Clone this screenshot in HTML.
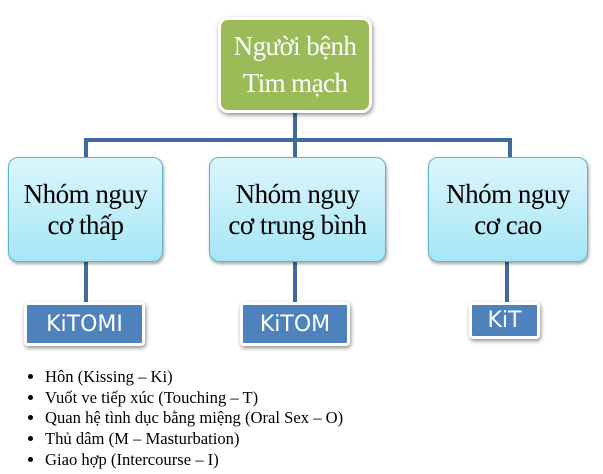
<!DOCTYPE html>
<html><head><meta charset="utf-8"><style>
body{margin:0;width:603px;height:474px;background:#fff;position:relative;overflow:hidden;font-family:"Liberation Serif",serif}
.b{position:absolute;box-sizing:border-box;display:flex;align-items:center;justify-content:center;text-align:center}
.root{left:218px;top:17px;width:154px;height:96px;background:#9bbb59;border:3px solid #fff;border-radius:10px;box-shadow:1px 2px 4px rgba(0,0,0,.45);color:#fff;font-size:27px;line-height:37px;letter-spacing:-0.6px}
.ch{top:157px;height:105px;border-radius:10px;border:1px solid #5fb3c8;background:linear-gradient(#dcf6fd,#a6e6f6);box-shadow:1px 2px 3px rgba(0,0,0,.35);color:#000;font-size:27px;line-height:31px;letter-spacing:-0.5px}
.k{background:#4f81bd;border:3px solid #fff;border-radius:4px;box-shadow:1px 2px 4px rgba(0,0,0,.45);color:#fff;font-family:"DejaVu Sans","Liberation Sans",sans-serif;font-size:22px}
.l{position:absolute;background:#3f6a9b}
ul{position:absolute;left:8px;top:367px;margin:0;padding-left:37px;font-size:16.6px;line-height:20.7px;color:#000}
</style></head><body>
<div class="l" style="left:293px;top:113px;width:4px;height:45px"></div>
<div class="l" style="left:84px;top:138px;width:428px;height:4px"></div>
<div class="l" style="left:84px;top:138px;width:4px;height:20px"></div>
<div class="l" style="left:508px;top:138px;width:4px;height:20px"></div>
<div class="l" style="left:84px;top:262px;width:4px;height:43px"></div>
<div class="l" style="left:293px;top:262px;width:4px;height:43px"></div>
<div class="l" style="left:505px;top:262px;width:4px;height:43px"></div>
<div class="b root">Người bệnh<br>Tim mạch</div>
<div class="b ch" style="left:8px;width:155px">Nhóm nguy<br>cơ thấp</div>
<div class="b ch" style="left:209px;width:177px">Nhóm nguy<br>cơ trung bình</div>
<div class="b ch" style="left:428px;width:160px">Nhóm nguy<br>cơ cao</div>
<div class="b k" style="left:24px;top:302px;width:121px;height:44px">KiTOMI</div>
<div class="b k" style="left:240px;top:302px;width:110px;height:44px">KiTOM</div>
<div class="b k" style="left:469px;top:302px;width:71px;height:37px">KiT</div>
<ul>
<li>Hôn (Kissing – Ki)</li>
<li>Vuốt ve tiếp xúc (Touching – T)</li>
<li>Quan hệ tình dục bằng miệng (Oral Sex – O)</li>
<li>Thủ dâm (M – Masturbation)</li>
<li>Giao hợp (Intercourse – I)</li>
</ul>
</body></html>
